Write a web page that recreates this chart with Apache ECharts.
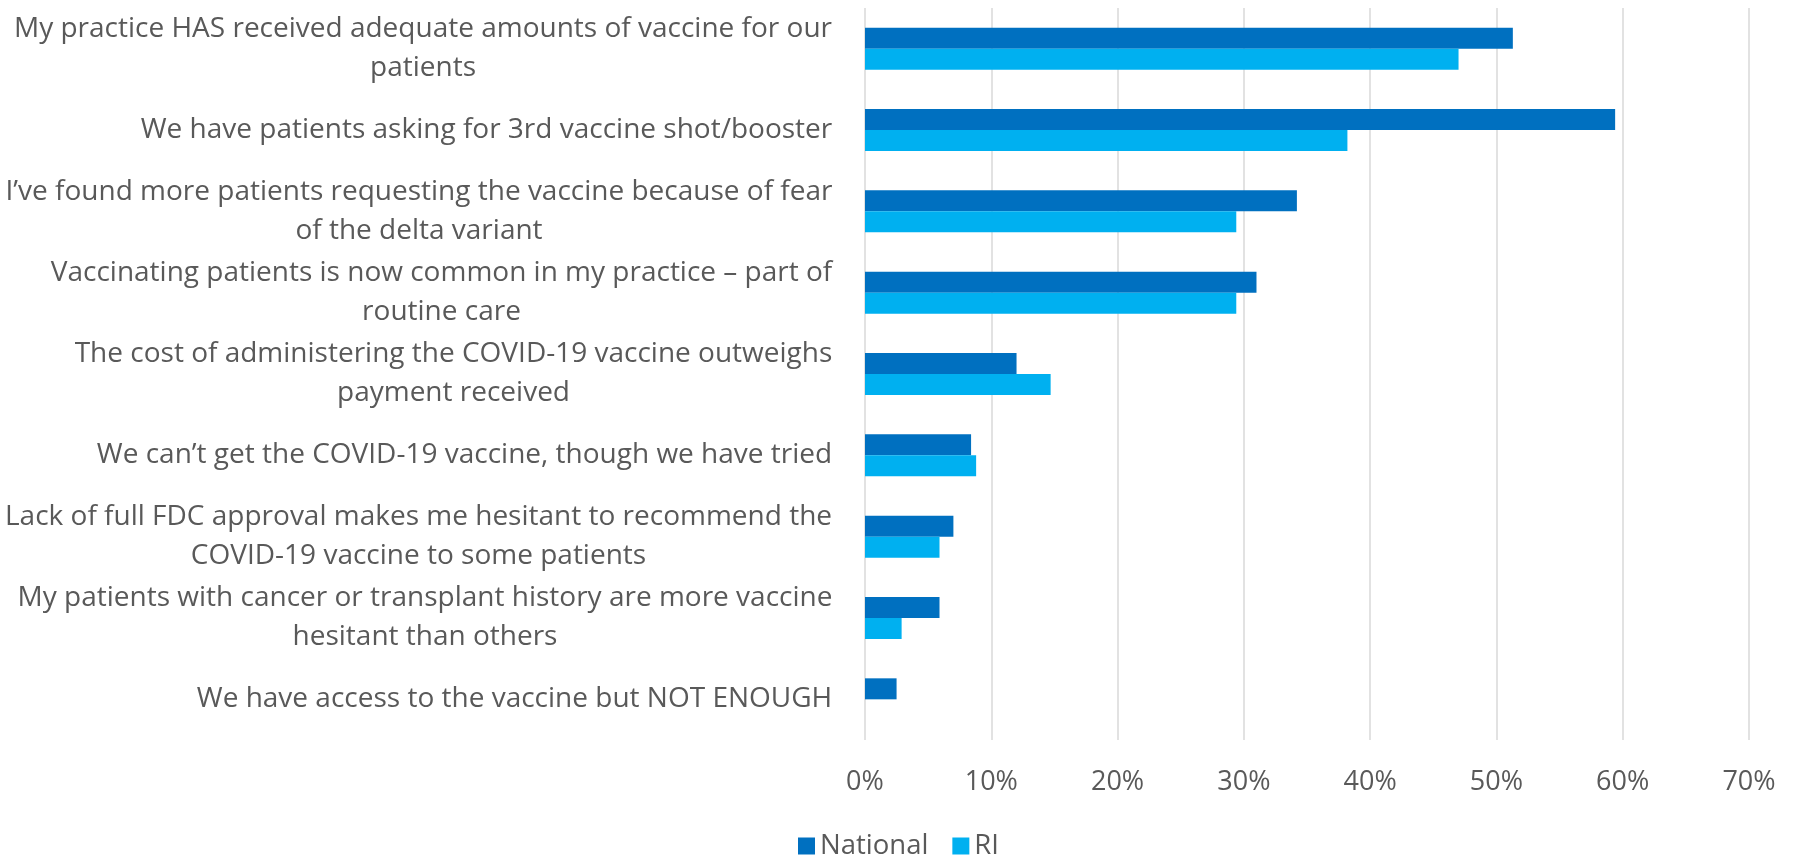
<!DOCTYPE html>
<html>
<head>
<meta charset="utf-8">
<script src="https://cdn.jsdelivr.net/npm/echarts@6/dist/echarts.min.js"></script>
<style>
html,body{margin:0;padding:0;background:#fff;}
#chart{width:1797px;height:865px;}
</style>
</head>
<body>
<div id="chart"></div>
<script>
const categories = [
  "My practice HAS received adequate amounts of vaccine for our\npatients",
  "We have patients asking for 3rd vaccine shot/booster",
  "I\u2019ve found more patients requesting the vaccine because of fear\nof the delta variant",
  "Vaccinating patients is now common in my practice \u2013 part of\nroutine care",
  "The cost of administering the COVID-19 vaccine outweighs\npayment received",
  "We can\u2019t get the COVID-19 vaccine, though we have tried",
  "Lack of full FDC approval makes me hesitant to recommend the\nCOVID-19 vaccine to some patients",
  "My patients with cancer or transplant history are more vaccine\nhesitant than others",
  "We have access to the vaccine but NOT ENOUGH"
];
const seriesNames = ["National", "RI"];
const nationalValues = [51.3, 59.4, 34.2, 31.0, 12.0, 8.4, 7.0, 5.9, 2.5];
const riValues = [47.0, 38.2, 29.4, 29.4, 14.7, 8.8, 5.9, 2.9, null];
const xTicks = { min: 0, max: 70, interval: 10 };

const labelFont = '"Open Sans", sans-serif';
const labelSize = 28;
const canvas = document.createElement('canvas');
const ctx = canvas.getContext('2d');
ctx.font = labelSize + 'px ' + labelFont;
const rich = {};
categories.forEach((c, i) => {
  const w = Math.max(...c.split('\n').map(l => ctx.measureText(l).width));
  rich['c' + i] = { width: Math.ceil(w) + 1, align: 'center', fontSize: labelSize, fontFamily: labelFont, color: '#595959', lineHeight: 39 };
});

const chart = echarts.init(document.getElementById('chart'));
chart.setOption({
  animation: false,
  backgroundColor: '#ffffff',
  grid: { left: 865, right: 48, top: 8, bottom: 125, containLabel: false },
  legend: {
    top: 827, left: 'center',
    itemWidth: 17, itemHeight: 17, itemGap: 24,
    icon: 'rect',
    textStyle: { fontSize: 27.5, color: '#595959', fontFamily: labelFont },
    data: seriesNames
  },
  xAxis: {
    type: 'value', min: xTicks.min, max: xTicks.max, interval: xTicks.interval,
    axisLine: { show: false }, axisTick: { show: false },
    axisLabel: { formatter: '{value}%', fontSize: 27, color: '#595959', fontFamily: labelFont, margin: 29 },
    splitLine: { lineStyle: { color: '#D9D9D9', width: 1.5 } }
  },
  yAxis: {
    type: 'category', inverse: true, data: categories,
    axisLine: { show: false }, axisTick: { show: false },
    axisLabel: {
      margin: 32, align: 'right',
      formatter: function (v) {
        const i = categories.indexOf(v);
        return v.split('\n').map(l => '{c' + i + '|' + l + '}').join('\n');
      },
      rich: rich
    }
  },
  series: [
    { name: seriesNames[0], type: 'bar', data: nationalValues, barWidth: 21, barGap: '0%',
      itemStyle: { color: '#0070C0' } },
    { name: seriesNames[1], type: 'bar', data: riValues, barWidth: 21, barGap: '0%',
      itemStyle: { color: '#00B0F0' } }
  ]
});
</script>
</body>
</html>
